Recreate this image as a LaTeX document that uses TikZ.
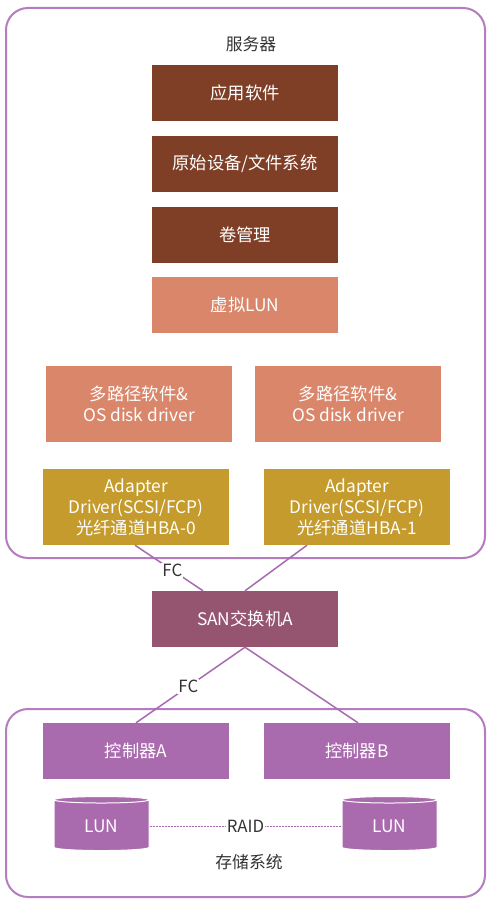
\documentclass[tikz,border=0pt]{standalone}
\usepackage{fontspec}
\setmainfont{Noto Sans CJK SC}
\usetikzlibrary{shapes.geometric}
\definecolor{dbrown}{HTML}{7F3F26}
\definecolor{salmon}{HTML}{D9866A}
\definecolor{gold}{HTML}{C49B2C}
\definecolor{sanc}{HTML}{955570}
\definecolor{ctrl}{HTML}{AA6AAE}
\definecolor{frame}{HTML}{B57CC0}
\definecolor{linec}{HTML}{A86AB0}
\definecolor{txt}{HTML}{333333}
\tikzset{
  blk/.style={rectangle, minimum width=186pt, text=white, font=\fontsize{17.3}{21}\selectfont, align=center, inner sep=0pt},
  onebox/.style={blk, minimum height=56pt},
  twobox/.style={blk, minimum height=76pt},
  lbl/.style={text=txt, font=\fontsize{16.8}{18}\selectfont, inner sep=1pt},
  grp/.style={draw=frame, line width=2pt, rounded corners=22pt},
  link/.style={draw=linec, line width=1.5pt},
  lun/.style={cylinder, shape border rotate=90, aspect=0.16, minimum width=95pt, minimum height=54pt, fill=ctrl, draw=white, line width=1pt, text=white, font=\fontsize{17.3}{18}\selectfont}
}
\begin{document}
\begin{tikzpicture}[x=1pt,y=-1pt]
\useasboundingbox (0,0) rectangle (497,901);
\fill[white] (0,0) rectangle (497,901);
% group frames
\draw[grp] (6,8) rectangle (485,558);
\draw[grp] (6,709) rectangle (485,897);
\node[lbl] (server) at (251,44) {服务器};
\node[lbl] (storage) at (249,862) {存储系统};
% server stack
\node[onebox, fill=dbrown] (app) at (245,93) {应用软件};
\node[onebox, fill=dbrown] (raw) at (245,164) {原始设备/文件系统};
\node[onebox, fill=dbrown] (vol) at (245,235) {卷管理};
\node[onebox, fill=salmon] (vlun) at (245,305) {虚拟LUN};
\node[twobox, fill=salmon] (mp0) at (139,404) {多路径软件\&\\OS disk driver};
\node[twobox, fill=salmon] (mp1) at (348,404) {多路径软件\&\\OS disk driver};
\node[twobox, fill=gold] (hba0) at (136,507) {Adapter\\Driver(SCSI/FCP)\\光纤通道HBA-0};
\node[twobox, fill=gold] (hba1) at (357,507) {Adapter\\Driver(SCSI/FCP)\\光纤通道HBA-1};
% switch
\node[onebox, fill=sanc] (san) at (245,619) {SAN交换机A};
% controllers
\node[onebox, fill=ctrl] (ca) at (136,751) {控制器A};
\node[onebox, fill=ctrl] (cb) at (357,751) {控制器B};
% LUNs
\node[lun] (lun0) at (101.5,826) {LUN};
\node[lun] (lun1) at (389.5,826) {LUN};
% connectors
\coordinate (h0) at ([xshift=-1pt]hba0.south);
\coordinate (h1) at ([xshift=-50pt]hba1.south);
\coordinate (s0) at ([xshift=-42pt]san.north);
\coordinate (s1) at (san.north);
\draw[link] (h0) -- node[pos=0.55, lbl, fill=white] {FC} (s0);
\draw[link] (h1) -- (s1);
\coordinate (ca0) at (ca.north);
\coordinate (cb0) at ([xshift=1pt]cb.north);
\draw[link] (san.south) -- node[pos=0.52, lbl, fill=white] {FC} (ca0);
\draw[link] (san.south) -- (cb0);
\draw[draw=linec, line width=0.8pt, dash pattern=on 2pt off 1pt] (lun0.east) -- node[lbl, fill=white, inner sep=0.5pt] {RAID} (lun1.west);
\end{tikzpicture}
\end{document}
